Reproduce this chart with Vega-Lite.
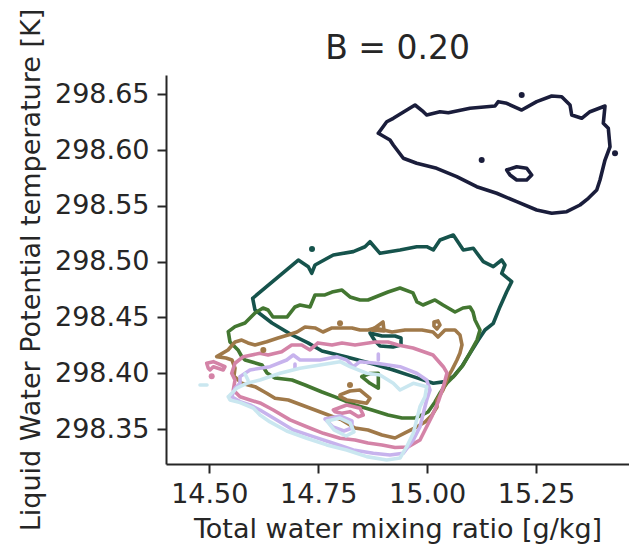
{
"$schema":"https://vega.github.io/schema/vega-lite/v6.json",
"autosize":{"type":"none"},
"padding":{"left":166,"top":75,"right":0,"bottom":83},
"width":463,"height":389,
"title":{"text":"B = 0.20","fontSize":33,"font":"DejaVu Sans","fontWeight":"normal","color":"#262626","offset":15,"dy":73,"frame":"group","anchor":"middle"},
"datasets":{
"lines":[
{"g":"g1","p":"g1a","o":0,"x":14.8880,"y":298.6151},{"g":"g1","p":"g1a","o":1,"x":14.9073,"y":298.6254},{"g":"g1","p":"g1a","o":2,"x":14.9224,"y":298.6285},{"g":"g1","p":"g1a","o":3,"x":14.9722,"y":298.6404},{"g":"g1","p":"g1a","o":4,"x":14.9913,"y":298.6344},{"g":"g1","p":"g1a","o":5,"x":14.9991,"y":298.6315},{"g":"g1","p":"g1a","o":6,"x":15.0296,"y":298.6344},{"g":"g1","p":"g1a","o":7,"x":15.0487,"y":298.6335},{"g":"g1","p":"g1a","o":8,"x":15.0985,"y":298.6375},{"g":"g1","p":"g1a","o":9,"x":15.1559,"y":298.6395},{"g":"g1","p":"g1a","o":10,"x":15.1635,"y":298.6434},{"g":"g1","p":"g1a","o":11,"x":15.1827,"y":298.6419},{"g":"g1","p":"g1a","o":12,"x":15.2172,"y":298.6359},{"g":"g1","p":"g1a","o":13,"x":15.2516,"y":298.6434},{"g":"g1","p":"g1a","o":14,"x":15.2861,"y":298.6485},{"g":"g1","p":"g1a","o":15,"x":15.3090,"y":298.6478},{"g":"g1","p":"g1a","o":16,"x":15.3281,"y":298.6404},{"g":"g1","p":"g1a","o":17,"x":15.3320,"y":298.6315},{"g":"g1","p":"g1a","o":18,"x":15.3549,"y":298.6285},{"g":"g1","p":"g1a","o":19,"x":15.3740,"y":298.6344},{"g":"g1","p":"g1a","o":20,"x":15.4084,"y":298.6395},{"g":"g1","p":"g1a","o":21,"x":15.4045,"y":298.6240},{"g":"g1","p":"g1a","o":22,"x":15.4160,"y":298.6195},{"g":"g1","p":"g1a","o":23,"x":15.4199,"y":298.6030},{"g":"g1","p":"g1a","o":24,"x":15.4084,"y":298.5911},{"g":"g1","p":"g1a","o":25,"x":15.4045,"y":298.5851},{"g":"g1","p":"g1a","o":26,"x":15.3969,"y":298.5732},{"g":"g1","p":"g1a","o":27,"x":15.3894,"y":298.5642},{"g":"g1","p":"g1a","o":28,"x":15.3701,"y":298.5568},{"g":"g1","p":"g1a","o":29,"x":15.3510,"y":298.5508},{"g":"g1","p":"g1a","o":30,"x":15.3205,"y":298.5448},{"g":"g1","p":"g1a","o":31,"x":15.2861,"y":298.5434},{"g":"g1","p":"g1a","o":32,"x":15.2516,"y":298.5463},{"g":"g1","p":"g1a","o":33,"x":15.2057,"y":298.5538},{"g":"g1","p":"g1a","o":34,"x":15.1598,"y":298.5613},{"g":"g1","p":"g1a","o":35,"x":15.1139,"y":298.5672},{"g":"g1","p":"g1a","o":36,"x":15.0680,"y":298.5762},{"g":"g1","p":"g1a","o":37,"x":15.0220,"y":298.5837},{"g":"g1","p":"g1a","o":38,"x":14.9761,"y":298.5882},{"g":"g1","p":"g1a","o":39,"x":14.9454,"y":298.5927},{"g":"g1","p":"g1a","o":40,"x":14.9224,"y":298.6046},{"g":"g1","p":"g1a","o":41,"x":14.9148,"y":298.6091},{"g":"g1","p":"g1a","o":42,"x":14.8880,"y":298.6151},
{"g":"g1","p":"g1b","o":0,"x":15.1827,"y":298.5822},{"g":"g1","p":"g1b","o":1,"x":15.2057,"y":298.5851},{"g":"g1","p":"g1b","o":2,"x":15.2287,"y":298.5837},{"g":"g1","p":"g1b","o":3,"x":15.2401,"y":298.5777},{"g":"g1","p":"g1b","o":4,"x":15.2287,"y":298.5732},{"g":"g1","p":"g1b","o":5,"x":15.2057,"y":298.5732},{"g":"g1","p":"g1b","o":6,"x":15.1903,"y":298.5777},{"g":"g1","p":"g1b","o":7,"x":15.1827,"y":298.5822},
{"g":"g2","p":"g2a","o":0,"x":14.5996,"y":298.4672},{"g":"g2","p":"g2a","o":1,"x":14.7043,"y":298.5015},{"g":"g2","p":"g2a","o":2,"x":14.7273,"y":298.4955},{"g":"g2","p":"g2a","o":3,"x":14.7351,"y":298.4896},{"g":"g2","p":"g2a","o":4,"x":14.7427,"y":298.4970},{"g":"g2","p":"g2a","o":5,"x":14.7847,"y":298.5060},{"g":"g2","p":"g2a","o":6,"x":14.8306,"y":298.5090},{"g":"g2","p":"g2a","o":7,"x":14.8574,"y":298.5134},{"g":"g2","p":"g2a","o":8,"x":14.8689,"y":298.5179},{"g":"g2","p":"g2a","o":9,"x":14.8919,"y":298.5075},{"g":"g2","p":"g2a","o":10,"x":14.9378,"y":298.5105},{"g":"g2","p":"g2a","o":11,"x":14.9761,"y":298.5134},{"g":"g2","p":"g2a","o":12,"x":14.9991,"y":298.5134},{"g":"g2","p":"g2a","o":13,"x":15.0142,"y":298.5105},{"g":"g2","p":"g2a","o":14,"x":15.0296,"y":298.5194},{"g":"g2","p":"g2a","o":15,"x":15.0602,"y":298.5239},{"g":"g2","p":"g2a","o":16,"x":15.0831,"y":298.5105},{"g":"g2","p":"g2a","o":17,"x":15.1061,"y":298.5120},{"g":"g2","p":"g2a","o":18,"x":15.1290,"y":298.5000},{"g":"g2","p":"g2a","o":19,"x":15.1520,"y":298.4955},{"g":"g2","p":"g2a","o":20,"x":15.1713,"y":298.5015},{"g":"g2","p":"g2a","o":21,"x":15.1788,"y":298.4970},{"g":"g2","p":"g2a","o":22,"x":15.1713,"y":298.4896},{"g":"g2","p":"g2a","o":23,"x":15.1942,"y":298.4821},{"g":"g2","p":"g2a","o":24,"x":15.1827,"y":298.4731},{"g":"g2","p":"g2a","o":25,"x":15.1674,"y":298.4597},{"g":"g2","p":"g2a","o":26,"x":15.1520,"y":298.4448},{"g":"g2","p":"g2a","o":27,"x":15.1329,"y":298.4388},{"g":"g2","p":"g2a","o":28,"x":15.1175,"y":298.4298},{"g":"g2","p":"g2a","o":29,"x":15.0985,"y":298.4179},{"g":"g2","p":"g2a","o":30,"x":15.0794,"y":298.4059},{"g":"g2","p":"g2a","o":31,"x":15.0602,"y":298.3970},{"g":"g2","p":"g2a","o":32,"x":15.0411,"y":298.3925},{"g":"g2","p":"g2a","o":33,"x":15.0142,"y":298.3910},{"g":"g2","p":"g2a","o":34,"x":14.9683,"y":298.3970},{"g":"g2","p":"g2a","o":35,"x":14.9224,"y":298.4030},{"g":"g2","p":"g2a","o":36,"x":14.8765,"y":298.4083},{"g":"g2","p":"g2a","o":37,"x":14.8154,"y":298.4146},{"g":"g2","p":"g2a","o":38,"x":14.7587,"y":298.4200},{"g":"g2","p":"g2a","o":39,"x":14.7266,"y":298.4272},{"g":"g2","p":"g2a","o":40,"x":14.6899,"y":298.4343},{"g":"g2","p":"g2a","o":41,"x":14.6439,"y":298.4451},{"g":"g2","p":"g2a","o":42,"x":14.6049,"y":298.4567},{"g":"g2","p":"g2a","o":43,"x":14.5996,"y":298.4672},
{"g":"g2","p":"g2b","o":0,"x":14.8689,"y":298.4361},{"g":"g2","p":"g2b","o":1,"x":14.8965,"y":298.4334},{"g":"g2","p":"g2b","o":2,"x":14.9263,"y":298.4334},{"g":"g2","p":"g2b","o":3,"x":14.9401,"y":298.4316},{"g":"g2","p":"g2b","o":4,"x":14.9401,"y":298.4254},{"g":"g2","p":"g2b","o":5,"x":14.9217,"y":298.4236},{"g":"g2","p":"g2b","o":6,"x":14.8919,"y":298.4245},{"g":"g2","p":"g2b","o":7,"x":14.8804,"y":298.4289},{"g":"g2","p":"g2b","o":8,"x":14.8689,"y":298.4361},
{"g":"g3","p":"g3a","o":0,"x":14.5436,"y":298.4373},{"g":"g3","p":"g3a","o":1,"x":14.5590,"y":298.4418},{"g":"g3","p":"g3a","o":2,"x":14.5820,"y":298.4451},{"g":"g3","p":"g3a","o":3,"x":14.6049,"y":298.4540},{"g":"g3","p":"g3a","o":4,"x":14.6233,"y":298.4585},{"g":"g3","p":"g3a","o":5,"x":14.6348,"y":298.4567},{"g":"g3","p":"g3a","o":6,"x":14.6462,"y":298.4504},{"g":"g3","p":"g3a","o":7,"x":14.6784,"y":298.4504},{"g":"g3","p":"g3a","o":8,"x":14.6967,"y":298.4594},{"g":"g3","p":"g3a","o":9,"x":14.7082,"y":298.4612},{"g":"g3","p":"g3a","o":10,"x":14.7312,"y":298.4594},{"g":"g3","p":"g3a","o":11,"x":14.7427,"y":298.4702},{"g":"g3","p":"g3a","o":12,"x":14.7656,"y":298.4702},{"g":"g3","p":"g3a","o":13,"x":14.7817,"y":298.4728},{"g":"g3","p":"g3a","o":14,"x":14.8046,"y":298.4746},{"g":"g3","p":"g3a","o":15,"x":14.8230,"y":298.4684},{"g":"g3","p":"g3a","o":16,"x":14.8460,"y":298.4657},{"g":"g3","p":"g3a","o":17,"x":14.8643,"y":298.4657},{"g":"g3","p":"g3a","o":18,"x":14.9102,"y":298.4728},{"g":"g3","p":"g3a","o":19,"x":14.9378,"y":298.4764},{"g":"g3","p":"g3a","o":20,"x":14.9676,"y":298.4720},{"g":"g3","p":"g3a","o":21,"x":14.9768,"y":298.4639},{"g":"g3","p":"g3a","o":22,"x":14.9906,"y":298.4612},{"g":"g3","p":"g3a","o":23,"x":15.0181,"y":298.4657},{"g":"g3","p":"g3a","o":24,"x":15.0365,"y":298.4612},{"g":"g3","p":"g3a","o":25,"x":15.0641,"y":298.4549},{"g":"g3","p":"g3a","o":26,"x":15.0824,"y":298.4585},{"g":"g3","p":"g3a","o":27,"x":15.0985,"y":298.4594},{"g":"g3","p":"g3a","o":28,"x":15.1054,"y":298.4549},{"g":"g3","p":"g3a","o":29,"x":15.1100,"y":298.4478},{"g":"g3","p":"g3a","o":30,"x":15.1214,"y":298.4388},{"g":"g3","p":"g3a","o":31,"x":15.1146,"y":298.4298},{"g":"g3","p":"g3a","o":32,"x":15.0985,"y":298.4182},{"g":"g3","p":"g3a","o":33,"x":15.0824,"y":298.4074},{"g":"g3","p":"g3a","o":34,"x":15.0641,"y":298.3985},{"g":"g3","p":"g3a","o":35,"x":15.0457,"y":298.3913},{"g":"g3","p":"g3a","o":36,"x":15.0296,"y":298.3823},{"g":"g3","p":"g3a","o":37,"x":15.0181,"y":298.3743},{"g":"g3","p":"g3a","o":38,"x":15.0021,"y":298.3653},{"g":"g3","p":"g3a","o":39,"x":14.9883,"y":298.3626},{"g":"g3","p":"g3a","o":40,"x":14.9722,"y":298.3599},{"g":"g3","p":"g3a","o":41,"x":14.9424,"y":298.3599},{"g":"g3","p":"g3a","o":42,"x":14.9102,"y":298.3626},{"g":"g3","p":"g3a","o":43,"x":14.8735,"y":298.3671},{"g":"g3","p":"g3a","o":44,"x":14.8345,"y":298.3716},{"g":"g3","p":"g3a","o":45,"x":14.8184,"y":298.3743},{"g":"g3","p":"g3a","o":46,"x":14.7886,"y":298.3788},{"g":"g3","p":"g3a","o":47,"x":14.7587,"y":298.3832},{"g":"g3","p":"g3a","o":48,"x":14.7197,"y":298.3895},{"g":"g3","p":"g3a","o":49,"x":14.6899,"y":298.3940},{"g":"g3","p":"g3a","o":50,"x":14.6508,"y":298.3958},{"g":"g3","p":"g3a","o":51,"x":14.6325,"y":298.4003},{"g":"g3","p":"g3a","o":52,"x":14.6210,"y":298.4074},{"g":"g3","p":"g3a","o":53,"x":14.5820,"y":298.4119},{"g":"g3","p":"g3a","o":54,"x":14.5751,"y":298.4146},{"g":"g3","p":"g3a","o":55,"x":14.5659,"y":298.4209},{"g":"g3","p":"g3a","o":56,"x":14.5475,"y":298.4280},{"g":"g3","p":"g3a","o":57,"x":14.5436,"y":298.4373},
{"g":"g3","p":"g3b","o":0,"x":14.8499,"y":298.3970},{"g":"g3","p":"g3b","o":1,"x":14.8689,"y":298.3998},{"g":"g3","p":"g3b","o":2,"x":14.8880,"y":298.4000},{"g":"g3","p":"g3b","o":3,"x":14.8880,"y":298.3866},{"g":"g3","p":"g3b","o":4,"x":14.8689,"y":298.3910},{"g":"g3","p":"g3b","o":5,"x":14.8499,"y":298.3970},
{"g":"g4","p":"g4a","o":0,"x":14.5170,"y":298.4149},{"g":"g4","p":"g4a","o":1,"x":14.5429,"y":298.4209},{"g":"g4","p":"g4a","o":2,"x":14.5590,"y":298.4280},{"g":"g4","p":"g4a","o":3,"x":14.5744,"y":298.4298},{"g":"g4","p":"g4a","o":4,"x":14.5888,"y":298.4272},{"g":"g4","p":"g4a","o":5,"x":14.6049,"y":298.4254},{"g":"g4","p":"g4a","o":6,"x":14.6318,"y":298.4283},{"g":"g4","p":"g4a","o":7,"x":14.6577,"y":298.4316},{"g":"g4","p":"g4a","o":8,"x":14.6807,"y":298.4343},{"g":"g4","p":"g4a","o":9,"x":14.7013,"y":298.4370},{"g":"g4","p":"g4a","o":10,"x":14.7197,"y":298.4415},{"g":"g4","p":"g4a","o":11,"x":14.7427,"y":298.4406},{"g":"g4","p":"g4a","o":12,"x":14.7610,"y":298.4370},{"g":"g4","p":"g4a","o":13,"x":14.7817,"y":298.4406},{"g":"g4","p":"g4a","o":14,"x":14.8046,"y":298.4406},{"g":"g4","p":"g4a","o":15,"x":14.8276,"y":298.4406},{"g":"g4","p":"g4a","o":16,"x":14.8460,"y":298.4388},{"g":"g4","p":"g4a","o":17,"x":14.8643,"y":298.4388},{"g":"g4","p":"g4a","o":18,"x":14.8804,"y":298.4406},{"g":"g4","p":"g4a","o":19,"x":14.9194,"y":298.4370},{"g":"g4","p":"g4a","o":20,"x":14.9493,"y":298.4388},{"g":"g4","p":"g4a","o":21,"x":14.9883,"y":298.4388},{"g":"g4","p":"g4a","o":22,"x":15.0135,"y":298.4370},{"g":"g4","p":"g4a","o":23,"x":15.0250,"y":298.4325},{"g":"g4","p":"g4a","o":24,"x":15.0411,"y":298.4388},{"g":"g4","p":"g4a","o":25,"x":15.0641,"y":298.4388},{"g":"g4","p":"g4a","o":26,"x":15.0755,"y":298.4343},{"g":"g4","p":"g4a","o":27,"x":15.0801,"y":298.4254},{"g":"g4","p":"g4a","o":28,"x":15.0755,"y":298.4182},{"g":"g4","p":"g4a","o":29,"x":15.0686,"y":298.4119},{"g":"g4","p":"g4a","o":30,"x":15.0572,"y":298.4030},{"g":"g4","p":"g4a","o":31,"x":15.0480,"y":298.3967},{"g":"g4","p":"g4a","o":32,"x":15.0365,"y":298.3850},{"g":"g4","p":"g4a","o":33,"x":15.0227,"y":298.3761},{"g":"g4","p":"g4a","o":34,"x":15.0227,"y":298.3698},{"g":"g4","p":"g4a","o":35,"x":15.0113,"y":298.3626},{"g":"g4","p":"g4a","o":36,"x":14.9952,"y":298.3564},{"g":"g4","p":"g4a","o":37,"x":14.9722,"y":298.3510},{"g":"g4","p":"g4a","o":38,"x":14.9493,"y":298.3465},{"g":"g4","p":"g4a","o":39,"x":14.9263,"y":298.3420},{"g":"g4","p":"g4a","o":40,"x":14.8965,"y":298.3447},{"g":"g4","p":"g4a","o":41,"x":14.8643,"y":298.3492},{"g":"g4","p":"g4a","o":42,"x":14.8345,"y":298.3510},{"g":"g4","p":"g4a","o":43,"x":14.8040,"y":298.3582},{"g":"g4","p":"g4a","o":44,"x":14.7732,"y":298.3626},{"g":"g4","p":"g4a","o":45,"x":14.7427,"y":298.3671},{"g":"g4","p":"g4a","o":46,"x":14.7121,"y":298.3716},{"g":"g4","p":"g4a","o":47,"x":14.6814,"y":298.3761},{"g":"g4","p":"g4a","o":48,"x":14.6508,"y":298.3776},{"g":"g4","p":"g4a","o":49,"x":14.6318,"y":298.3821},{"g":"g4","p":"g4a","o":50,"x":14.6049,"y":298.3880},{"g":"g4","p":"g4a","o":51,"x":14.5744,"y":298.3910},{"g":"g4","p":"g4a","o":52,"x":14.5567,"y":298.3976},{"g":"g4","p":"g4a","o":53,"x":14.5590,"y":298.4047},{"g":"g4","p":"g4a","o":54,"x":14.5521,"y":298.4119},{"g":"g4","p":"g4a","o":55,"x":14.5383,"y":298.4137},{"g":"g4","p":"g4a","o":56,"x":14.5170,"y":298.4149},
{"g":"g4","p":"g4b","o":0,"x":14.8735,"y":298.4388},{"g":"g4","p":"g4b","o":1,"x":14.8988,"y":298.4460},{"g":"g4","p":"g4b","o":2,"x":14.9011,"y":298.4379},{"g":"g4","p":"g4b","o":3,"x":14.8735,"y":298.4388},
{"g":"g4","p":"g4c","o":0,"x":14.8001,"y":298.3806},{"g":"g4","p":"g4c","o":1,"x":14.8230,"y":298.3841},{"g":"g4","p":"g4c","o":2,"x":14.8460,"y":298.3850},{"g":"g4","p":"g4c","o":3,"x":14.8689,"y":298.3776},{"g":"g4","p":"g4c","o":4,"x":14.8613,"y":298.3731},{"g":"g4","p":"g4c","o":5,"x":14.8384,"y":298.3746},{"g":"g4","p":"g4c","o":6,"x":14.8154,"y":298.3761},{"g":"g4","p":"g4c","o":7,"x":14.8001,"y":298.3790},{"g":"g4","p":"g4c","o":8,"x":14.8001,"y":298.3806},
{"g":"g4","p":"g4d","o":0,"x":15.0158,"y":298.4460},{"g":"g4","p":"g4d","o":1,"x":15.0250,"y":298.4469},{"g":"g4","p":"g4d","o":2,"x":15.0296,"y":298.4433},{"g":"g4","p":"g4d","o":3,"x":15.0227,"y":298.4397},{"g":"g4","p":"g4d","o":4,"x":15.0158,"y":298.4424},{"g":"g4","p":"g4d","o":5,"x":15.0158,"y":298.4460},
{"g":"g5","p":"g5a","o":0,"x":14.5590,"y":298.4090},{"g":"g5","p":"g5a","o":1,"x":14.5781,"y":298.4149},{"g":"g5","p":"g5a","o":2,"x":14.6164,"y":298.4179},{"g":"g5","p":"g5a","o":3,"x":14.6348,"y":298.4164},{"g":"g5","p":"g5a","o":4,"x":14.6662,"y":298.4194},{"g":"g5","p":"g5a","o":5,"x":14.6892,"y":298.4254},{"g":"g5","p":"g5a","o":6,"x":14.7121,"y":298.4254},{"g":"g5","p":"g5a","o":7,"x":14.7312,"y":298.4209},{"g":"g5","p":"g5a","o":8,"x":14.7495,"y":298.4272},{"g":"g5","p":"g5a","o":9,"x":14.7817,"y":298.4254},{"g":"g5","p":"g5a","o":10,"x":14.8046,"y":298.4272},{"g":"g5","p":"g5a","o":11,"x":14.8345,"y":298.4254},{"g":"g5","p":"g5a","o":12,"x":14.8804,"y":298.4280},{"g":"g5","p":"g5a","o":13,"x":14.9102,"y":298.4280},{"g":"g5","p":"g5a","o":14,"x":14.9332,"y":298.4254},{"g":"g5","p":"g5a","o":15,"x":14.9676,"y":298.4227},{"g":"g5","p":"g5a","o":16,"x":15.0135,"y":298.4164},{"g":"g5","p":"g5a","o":17,"x":15.0372,"y":298.4059},{"g":"g5","p":"g5a","o":18,"x":15.0457,"y":298.4003},{"g":"g5","p":"g5a","o":19,"x":15.0372,"y":298.3880},{"g":"g5","p":"g5a","o":20,"x":15.0257,"y":298.3746},{"g":"g5","p":"g5a","o":21,"x":15.0106,"y":298.3611},{"g":"g5","p":"g5a","o":22,"x":14.9952,"y":298.3492},{"g":"g5","p":"g5a","o":23,"x":14.9837,"y":298.3402},{"g":"g5","p":"g5a","o":24,"x":14.9562,"y":298.3340},{"g":"g5","p":"g5a","o":25,"x":14.9263,"y":298.3335},{"g":"g5","p":"g5a","o":26,"x":14.8965,"y":298.3358},{"g":"g5","p":"g5a","o":27,"x":14.8643,"y":298.3375},{"g":"g5","p":"g5a","o":28,"x":14.8345,"y":298.3402},{"g":"g5","p":"g5a","o":29,"x":14.8001,"y":298.3418},{"g":"g5","p":"g5a","o":30,"x":14.7617,"y":298.3462},{"g":"g5","p":"g5a","o":31,"x":14.7236,"y":298.3521},{"g":"g5","p":"g5a","o":32,"x":14.6853,"y":298.3582},{"g":"g5","p":"g5a","o":33,"x":14.6469,"y":298.3671},{"g":"g5","p":"g5a","o":34,"x":14.6164,"y":298.3734},{"g":"g5","p":"g5a","o":35,"x":14.5934,"y":298.3761},{"g":"g5","p":"g5a","o":36,"x":14.5705,"y":298.3790},{"g":"g5","p":"g5a","o":37,"x":14.5551,"y":298.3850},{"g":"g5","p":"g5a","o":38,"x":14.5590,"y":298.3940},{"g":"g5","p":"g5a","o":39,"x":14.5514,"y":298.4000},{"g":"g5","p":"g5a","o":40,"x":14.5590,"y":298.4090},
{"g":"g5","p":"g5b","o":0,"x":14.4940,"y":298.4090},{"g":"g5","p":"g5b","o":1,"x":14.5092,"y":298.4104},{"g":"g5","p":"g5b","o":2,"x":14.5360,"y":298.4059},{"g":"g5","p":"g5b","o":3,"x":14.5321,"y":298.4030},{"g":"g5","p":"g5b","o":4,"x":14.5092,"y":298.4059},{"g":"g5","p":"g5b","o":5,"x":14.5016,"y":298.4030},{"g":"g5","p":"g5b","o":6,"x":14.4977,"y":298.4045},{"g":"g5","p":"g5b","o":7,"x":14.4940,"y":298.4090},
{"g":"g5","p":"g5c","o":0,"x":14.7847,"y":298.3671},{"g":"g5","p":"g5c","o":1,"x":14.8154,"y":298.3716},{"g":"g5","p":"g5c","o":2,"x":14.8460,"y":298.3686},{"g":"g5","p":"g5c","o":3,"x":14.8535,"y":298.3626},{"g":"g5","p":"g5c","o":4,"x":14.8421,"y":298.3611},{"g":"g5","p":"g5c","o":5,"x":14.8230,"y":298.3656},{"g":"g5","p":"g5c","o":6,"x":14.8040,"y":298.3642},{"g":"g5","p":"g5c","o":7,"x":14.7886,"y":298.3656},{"g":"g5","p":"g5c","o":8,"x":14.7847,"y":298.3671},
{"g":"g6","p":"g6a","o":0,"x":14.5705,"y":298.3970},{"g":"g6","p":"g6a","o":1,"x":14.5934,"y":298.4030},{"g":"g6","p":"g6a","o":2,"x":14.6394,"y":298.4059},{"g":"g6","p":"g6a","o":3,"x":14.6777,"y":298.4119},{"g":"g6","p":"g6a","o":4,"x":14.6928,"y":298.4164},{"g":"g6","p":"g6a","o":5,"x":14.7082,"y":298.4119},{"g":"g6","p":"g6a","o":6,"x":14.7541,"y":298.4119},{"g":"g6","p":"g6a","o":7,"x":14.7925,"y":298.4149},{"g":"g6","p":"g6a","o":8,"x":14.8154,"y":298.4119},{"g":"g6","p":"g6a","o":9,"x":14.8306,"y":298.4059},{"g":"g6","p":"g6a","o":10,"x":14.8460,"y":298.4104},{"g":"g6","p":"g6a","o":11,"x":14.8843,"y":298.4090},{"g":"g6","p":"g6a","o":12,"x":14.9378,"y":298.4059},{"g":"g6","p":"g6a","o":13,"x":14.9761,"y":298.4000},{"g":"g6","p":"g6a","o":14,"x":14.9991,"y":298.3940},{"g":"g6","p":"g6a","o":15,"x":15.0067,"y":298.3850},{"g":"g6","p":"g6a","o":16,"x":14.9991,"y":298.3761},{"g":"g6","p":"g6a","o":17,"x":14.9913,"y":298.3642},{"g":"g6","p":"g6a","o":18,"x":14.9837,"y":298.3521},{"g":"g6","p":"g6a","o":19,"x":14.9683,"y":298.3402},{"g":"g6","p":"g6a","o":20,"x":14.9454,"y":298.3283},{"g":"g6","p":"g6a","o":21,"x":14.9148,"y":298.3268},{"g":"g6","p":"g6a","o":22,"x":14.8765,"y":298.3283},{"g":"g6","p":"g6a","o":23,"x":14.8306,"y":298.3313},{"g":"g6","p":"g6a","o":24,"x":14.7847,"y":298.3373},{"g":"g6","p":"g6a","o":25,"x":14.7388,"y":298.3432},{"g":"g6","p":"g6a","o":26,"x":14.6928,"y":298.3492},{"g":"g6","p":"g6a","o":27,"x":14.6547,"y":298.3582},{"g":"g6","p":"g6a","o":28,"x":14.6164,"y":298.3671},{"g":"g6","p":"g6a","o":29,"x":14.5934,"y":298.3716},{"g":"g6","p":"g6a","o":30,"x":14.5705,"y":298.3746},{"g":"g6","p":"g6a","o":31,"x":14.5514,"y":298.3790},{"g":"g6","p":"g6a","o":32,"x":14.5590,"y":298.3866},{"g":"g6","p":"g6a","o":33,"x":14.5705,"y":298.3910},{"g":"g6","p":"g6a","o":34,"x":14.5705,"y":298.3970},
{"g":"g6","p":"g6b","o":0,"x":14.7656,"y":298.3590},{"g":"g6","p":"g6b","o":1,"x":14.8001,"y":298.3617},{"g":"g6","p":"g6b","o":2,"x":14.8276,"y":298.3573},{"g":"g6","p":"g6b","o":3,"x":14.8276,"y":298.3510},{"g":"g6","p":"g6b","o":4,"x":14.8092,"y":298.3483},{"g":"g6","p":"g6b","o":5,"x":14.7840,"y":298.3519},{"g":"g6","p":"g6b","o":6,"x":14.7656,"y":298.3590},
{"g":"g6","p":"g6c","o":0,"x":14.8880,"y":298.4173},{"g":"g6","p":"g6c","o":1,"x":14.8880,"y":298.4119},
{"g":"g6","p":"g6d","o":0,"x":14.6967,"y":298.4083},{"g":"g6","p":"g6d","o":1,"x":14.6967,"y":298.4039},
{"g":"g7","p":"g7a","o":0,"x":14.5436,"y":298.3790},{"g":"g7","p":"g7a","o":1,"x":14.5629,"y":298.3866},{"g":"g7","p":"g7a","o":2,"x":14.5859,"y":298.3910},{"g":"g7","p":"g7a","o":3,"x":14.6164,"y":298.3940},{"g":"g7","p":"g7a","o":4,"x":14.6623,"y":298.4000},{"g":"g7","p":"g7a","o":5,"x":14.7082,"y":298.4045},{"g":"g7","p":"g7a","o":6,"x":14.7541,"y":298.4074},{"g":"g7","p":"g7a","o":7,"x":14.8001,"y":298.4104},{"g":"g7","p":"g7a","o":8,"x":14.8230,"y":298.4059},{"g":"g7","p":"g7a","o":9,"x":14.8613,"y":298.4000},{"g":"g7","p":"g7a","o":10,"x":14.8919,"y":298.3985},{"g":"g7","p":"g7a","o":11,"x":14.9224,"y":298.3910},{"g":"g7","p":"g7a","o":12,"x":14.9378,"y":298.3850},{"g":"g7","p":"g7a","o":13,"x":14.9683,"y":298.3910},{"g":"g7","p":"g7a","o":14,"x":14.9991,"y":298.3880},{"g":"g7","p":"g7a","o":15,"x":14.9952,"y":298.3790},{"g":"g7","p":"g7a","o":16,"x":14.9837,"y":298.3701},{"g":"g7","p":"g7a","o":17,"x":14.9761,"y":298.3582},{"g":"g7","p":"g7a","o":18,"x":14.9683,"y":298.3462},{"g":"g7","p":"g7a","o":19,"x":14.9532,"y":298.3342},{"g":"g7","p":"g7a","o":20,"x":14.9378,"y":298.3241},{"g":"g7","p":"g7a","o":21,"x":14.9073,"y":298.3223},{"g":"g7","p":"g7a","o":22,"x":14.8613,"y":298.3253},{"g":"g7","p":"g7a","o":23,"x":14.8154,"y":298.3313},{"g":"g7","p":"g7a","o":24,"x":14.7695,"y":298.3358},{"g":"g7","p":"g7a","o":25,"x":14.7236,"y":298.3418},{"g":"g7","p":"g7a","o":26,"x":14.6777,"y":298.3483},{"g":"g7","p":"g7a","o":27,"x":14.6394,"y":298.3564},{"g":"g7","p":"g7a","o":28,"x":14.6164,"y":298.3626},{"g":"g7","p":"g7a","o":29,"x":14.6010,"y":298.3689},{"g":"g7","p":"g7a","o":30,"x":14.5705,"y":298.3738},{"g":"g7","p":"g7a","o":31,"x":14.5475,"y":298.3761},{"g":"g7","p":"g7a","o":32,"x":14.5436,"y":298.3790},
{"g":"g7","p":"g7b","o":0,"x":14.7702,"y":298.3573},{"g":"g7","p":"g7b","o":1,"x":14.8001,"y":298.3599},{"g":"g7","p":"g7b","o":2,"x":14.8230,"y":298.3555},{"g":"g7","p":"g7b","o":3,"x":14.8322,"y":298.3474},{"g":"g7","p":"g7b","o":4,"x":14.8138,"y":298.3438},{"g":"g7","p":"g7b","o":5,"x":14.7863,"y":298.3492},{"g":"g7","p":"g7b","o":6,"x":14.7702,"y":298.3573},
{"g":"g7","p":"g7c","o":0,"x":14.4787,"y":298.3895},{"g":"g7","p":"g7c","o":1,"x":14.4947,"y":298.3895},
{"g":"g7","p":"g7d","o":0,"x":14.5820,"y":298.3994},{"g":"g7","p":"g7d","o":1,"x":14.5888,"y":298.3940}
],
"dots":[
{"g":"g1","x":15.2172,"y":298.6494},{"g":"g1","x":15.1253,"y":298.5911},{"g":"g1","x":15.4314,"y":298.5971},
{"g":"g2","x":14.7358,"y":298.5114},
{"g":"g4","x":14.8001,"y":298.4448},{"g":"g4","x":14.6240,"y":298.4209},{"g":"g4","x":14.8230,"y":298.3895},
{"g":"g5","x":14.5055,"y":298.3973}
]
},
"layer":[
{"data":{"name":"lines"},
"mark":{"type":"line","strokeWidth":3.6,"strokeJoin":"round","strokeCap":"round"},
"encoding":{
"x":{"field":"x","type":"quantitative","scale":{"domain":[14.4006,15.4635],"nice":false,"zero":false},
"axis":{"title":"Total water mixing ratio [g/kg]","values":[14.5,14.75,15,15.25],"format":".2f","grid":false,"labelOverlap":false,"labelFlush":false}},
"y":{"field":"y","type":"quantitative","scale":{"domain":[298.3187,298.6673],"nice":false,"zero":false},
"axis":{"title":"Liquid Water Potential temperature [K]","values":[298.35,298.4,298.45,298.5,298.55,298.6,298.65],"format":".2f","grid":false,"labelOverlap":false,"labelFlush":false}},
"color":{"field":"g","type":"nominal","scale":{"domain":["g1","g2","g3","g4","g5","g6","g7"],"range":["#1a1d3b","#16534c","#437731","#a07949","#d483a7","#c7b3ed","#cae7f0"]},"legend":null},
"detail":{"field":"p","type":"nominal"},
"order":{"field":"o","type":"quantitative"}
}},
{"data":{"name":"dots"},
"mark":{"type":"point","filled":true,"opacity":1,"size":36,"strokeWidth":0},
"encoding":{
"x":{"field":"x","type":"quantitative"},
"y":{"field":"y","type":"quantitative"},
"color":{"field":"g","type":"nominal","legend":null}
}}
],
"config":{
"view":{"stroke":null},
"axis":{"labelFont":"DejaVu Sans","titleFont":"DejaVu Sans","labelFontSize":27,"titleFontSize":27,"titleFontWeight":"normal","labelColor":"#262626","titleColor":"#262626","domainColor":"#262626","tickColor":"#262626","domainWidth":2,"tickWidth":2,"tickSize":9,"labelPadding":8,"titlePadding":9}
}
}
